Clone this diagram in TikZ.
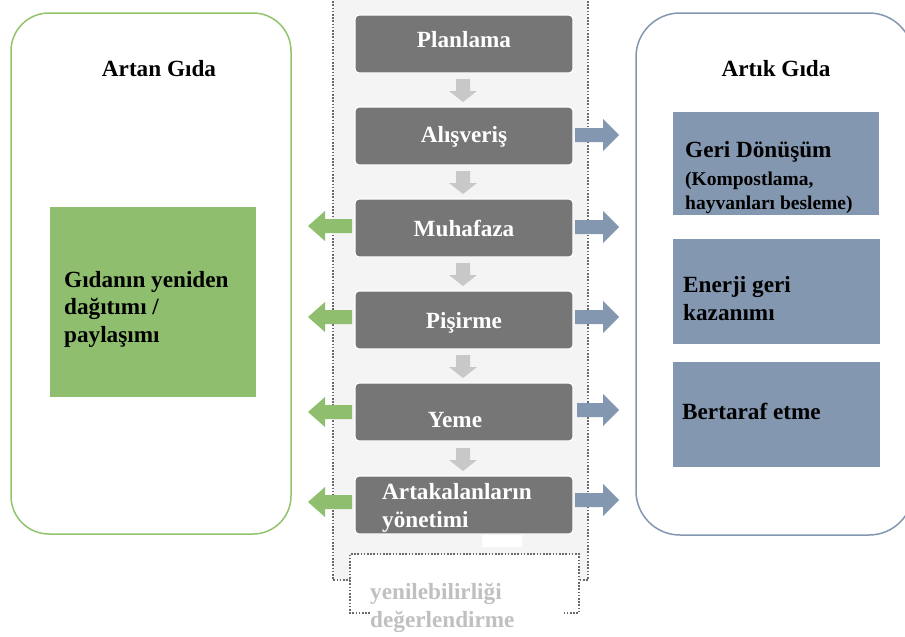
\documentclass[tikz,border=0pt]{standalone}
\usepackage{fontspec}
\setmainfont{Liberation Serif}
\definecolor{boxgray}{RGB}{118,118,118}
\definecolor{bggray}{RGB}{244,244,244}
\definecolor{dotgray}{RGB}{105,105,105}
\definecolor{arrgray}{RGB}{200,200,200}
\definecolor{grn}{RGB}{143,191,110}
\definecolor{grnline}{RGB}{146,196,110}
\definecolor{blu}{RGB}{131,151,176}
\definecolor{bluline}{RGB}{132,151,176}
\definecolor{lighttext}{RGB}{192,192,192}
\newcommand\bigfont{\fontsize{23.2}{27.5}\selectfont\bfseries}
\newcommand\smallfont{\fontsize{19.5}{24}\selectfont\bfseries}
\newcommand\grnarrow[1]{\fill[grn] (352,#1-7) -- (325,#1-7) -- (325,#1-15) -- (308,#1) -- (325,#1+15) -- (325,#1+7) -- (352,#1+7) -- cycle;}
\newcommand\bluarrow[2]{\fill[blu] (#2,#1-7) -- (603,#1-7) -- (603,#1-16) -- (619,#1) -- (603,#1+16) -- (603,#1+7) -- (#2,#1+7) -- cycle;}
\newcommand\grayarrowdown[1]{\fill[arrgray] (456,#1) -- (470,#1) -- (470,#1+12) -- (477,#1+12) -- (463,#1+23) -- (449,#1+12) -- (456,#1+12) -- cycle;}
\tikzset{
  panelbox/.style={line width=1.5pt, fill=white},
  stepbox/.style={fill=boxgray, draw=white, line width=1.2pt, rounded corners=4pt, minimum width=218pt, minimum height=58pt, inner sep=0pt},
  steptext/.style={text=white, font=\bigfont, inner sep=0pt, anchor=base},
  blacktext/.style={text=black, font=\bigfont, inner sep=0pt, anchor=base west, align=left},
  titletext/.style={text=black, font=\bigfont, inner sep=0pt, anchor=base},
  dotline/.style={draw=dotgray, line width=1.6pt, dash pattern=on 1.6pt off 1.6pt},
  grnbox/.style={fill=grn, inner sep=0pt},
  blubox/.style={fill=blu, inner sep=0pt}
}
\begin{document}
\begin{tikzpicture}[x=1pt,y=-1pt]
\useasboundingbox (0,0) rectangle (905,637);
\fill[white] (0,0) rectangle (905,637);
% left panel
\draw[panelbox, draw=grnline, rounded corners=38pt] (11,13) rectangle (291,534);
\node[titletext] (artan) at (159,76) {Artan Gıda};
\node[grnbox, minimum width=206pt, minimum height=190pt] (gbox) at (153,302) {};
\node[blacktext] (gtext) at (64,342) {Gıdanın yeniden\\dağıtımı /\\paylaşımı};
% right panel
\draw[panelbox, draw=bluline, rounded corners=44pt] (636,13) rectangle (913,535);
\node[titletext] (artik) at (776,76) {Artık Gıda};
\node[blubox, minimum width=206pt, minimum height=103pt] (geri) at (776,163.5) {};
\node[blubox, minimum width=207pt, minimum height=105pt] (enerji) at (776.5,291.5) {};
\node[blubox, minimum width=207pt, minimum height=105pt] (bertaraf) at (776.5,414.5) {};
\node[blacktext] (geritext) at (685,157) {Geri Dönüşüm};
\node[blacktext, font=\smallfont] (komp) at (685,209) {(Kompostlama,\\hayvanları besleme)};
\node[blacktext] (enerjitext) at (683,320) {Enerji geri\\kazanımı};
\node[blacktext] (bertaraftext) at (682,419) {Bertaraf etme};
% centre column
\fill[bggray] (333,-2) rectangle (588,580);
\draw[dotline] (333,-2) -- (333,580) -- (588,580) -- (588,-2);
\node[stepbox] (p1) at (464,44) {};
\node[stepbox] (p2) at (464,136) {};
\node[stepbox] (p3) at (464,228) {};
\node[stepbox] (p4) at (464,320) {};
\node[stepbox] (p5) at (464,412) {};
\node[stepbox] (p6) at (464,505) {};
\node[steptext] (t1) at (464,47) {Planlama};
\node[steptext] (t2) at (464,142) {Alışveriş};
\node[steptext] (t3) at (464,236) {Muhafaza};
\node[steptext] (t4) at (464,328) {Pişirme};
\node[steptext] (t5) at (455,427) {Yeme};
\node[steptext, anchor=base west, align=left] (t6) at (382,527) {Artakalanların\\yönetimi};
\fill[white] (482,535) rectangle (522,547);
\grayarrowdown{79}
\grayarrowdown{171}
\grayarrowdown{263}
\grayarrowdown{355}
\grayarrowdown{448}
% side arrows
\grnarrow{226}
\grnarrow{317}
\grnarrow{412}
\grnarrow{502}
\bluarrow{135}{575}
\bluarrow{227}{575}
\bluarrow{317}{575}
\bluarrow{410}{577}
\bluarrow{500}{575}
% bottom box
\fill[white] (350,554) rectangle (579,613);
\draw[dotline] (370,613) -- (350,613) -- (350,554) -- (579,554) -- (579,613) -- (563,613);
\node[blacktext, text=lighttext] (yen) at (370,627) {yenilebilirliği\\değerlendirme};
\end{tikzpicture}
\end{document}
